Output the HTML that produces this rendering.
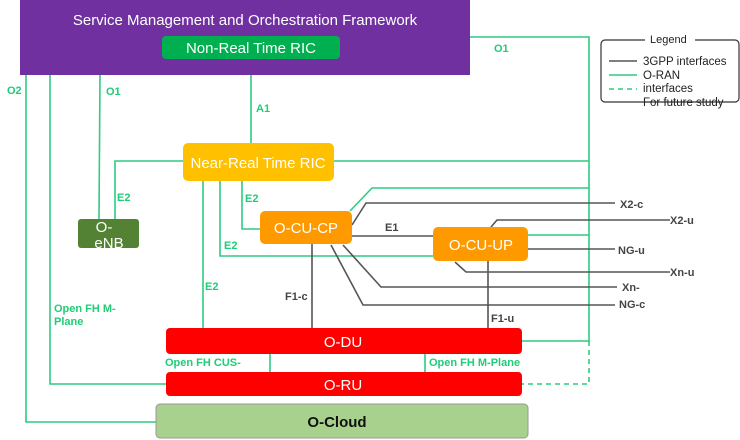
<!DOCTYPE html>
<html><head><meta charset="utf-8"><style>
body{margin:0;background:#fff}
svg{display:block;font-family:"Liberation Sans",sans-serif}
.g{stroke:#2ecc80;stroke-width:1.6;fill:none}
.k{stroke:#555;stroke-width:1.6;fill:none}
.gl{fill:#1fcc77;font-size:11px;font-weight:bold}
.kl{fill:#444;font-size:11px;font-weight:bold}
.w{fill:#fff;font-size:15px;text-anchor:middle}
</style></head><body>
<svg width="740" height="440" viewBox="0 0 740 440">
<!-- green lines -->
<polyline class="g" points="470,37 589,37 589,341 522,341"/>
<polyline class="g" points="589,341 589,384 522,384" stroke-dasharray="5,4"/>
<line class="g" x1="334" y1="161" x2="589" y2="161"/>
<polyline class="g" points="183,161 115,161 115,219"/>
<line class="g" x1="100" y1="75" x2="99" y2="219"/>
<polyline class="g" points="26,75 26,422 156,422"/>
<polyline class="g" points="50,75 50,384 166,384"/>
<line class="g" x1="251" y1="59" x2="251" y2="143"/>
<line class="g" x1="203" y1="181" x2="203" y2="328"/>
<polyline class="g" points="220,181 220,256 433,256"/>
<polyline class="g" points="242,181 242,229 260,229"/>
<polyline class="g" points="350,211 372,188 589,188"/>
<line class="g" x1="528" y1="235" x2="589" y2="235"/>
<line class="g" x1="270" y1="354" x2="270" y2="372"/>
<line class="g" x1="425" y1="354" x2="425" y2="372"/>
<!-- gray lines -->
<polyline class="k" points="352,225 366,203 615,203"/>
<line class="k" x1="352" y1="236" x2="433" y2="236"/>
<polyline class="k" points="343,245 381,287 617,287"/>
<polyline class="k" points="331,245 363,305 615,305"/>
<line class="k" x1="312" y1="244" x2="312" y2="328"/>
<polyline class="k" points="491,227 497,220 670,220"/>
<line class="k" x1="528" y1="249" x2="615" y2="249"/>
<polyline class="k" points="455,262 466,272 670,272"/>
<line class="k" x1="488" y1="261" x2="488" y2="328"/>
<!-- boxes -->
<rect x="20" y="0" width="450" height="75" fill="#7030a0"/>
<text x="245" y="25" class="w" font-size="15">Service Management and Orchestration Framework</text>
<rect x="162" y="36" width="178" height="23" rx="4" fill="#00b050"/>
<text x="251" y="53" class="w" font-size="14">Non-Real Time RIC</text>
<rect x="183" y="143" width="151" height="38" rx="5" fill="#ffc000"/>
<text x="258" y="168" class="w" font-size="15">Near-Real Time RIC</text>
<rect x="78" y="219" width="61" height="29" rx="3" fill="#548235"/>
<text x="104" y="232" class="w" font-size="14">O-</text>
<text x="109" y="248" class="w" font-size="14">eNB</text>
<rect x="260" y="211" width="92" height="33" rx="5" fill="#ff9900"/>
<text x="306" y="233" class="w" font-size="15">O-CU-CP</text>
<rect x="433" y="227" width="95" height="34" rx="5" fill="#ff9900"/>
<text x="481" y="250" class="w" font-size="15">O-CU-UP</text>
<rect x="166" y="328" width="356" height="26" rx="4" fill="#ff0000"/>
<text x="343" y="347" class="w" font-size="15">O-DU</text>
<rect x="166" y="372" width="356" height="24" rx="4" fill="#ff0000"/>
<text x="343" y="390" class="w" font-size="15">O-RU</text>
<rect x="156" y="404" width="372" height="34" rx="4" fill="#a9d18e" stroke="#999"/>
<text x="337" y="427" font-size="15" font-weight="bold" text-anchor="middle" fill="#111">O-Cloud</text>
<!-- labels -->
<text x="494" y="52" class="gl">O1</text>
<text x="7" y="94" class="gl">O2</text>
<text x="106" y="95" class="gl">O1</text>
<text x="256" y="112" class="gl">A1</text>
<text x="117" y="201" class="gl">E2</text>
<text x="245" y="202" class="gl">E2</text>
<text x="224" y="249" class="gl">E2</text>
<text x="205" y="290" class="gl">E2</text>
<text x="54" y="312" class="gl">Open FH M-</text>
<text x="54" y="325" class="gl">Plane</text>
<text x="165" y="366" class="gl">Open FH CUS-</text>
<text x="429" y="366" class="gl">Open FH M-Plane</text>
<text x="385" y="231" class="kl">E1</text>
<text x="285" y="300" class="kl">F1-c</text>
<text x="491" y="322" class="kl">F1-u</text>
<text x="620" y="208" class="kl">X2-c</text>
<text x="670" y="224" class="kl">X2-u</text>
<text x="618" y="254" class="kl">NG-u</text>
<text x="670" y="276" class="kl">Xn-u</text>
<text x="622" y="291" class="kl">Xn-</text>
<text x="619" y="308" class="kl">NG-c</text>
<!-- legend -->
<rect x="601" y="40" width="138" height="62" rx="4" fill="none" stroke="#333" stroke-width="1.2"/>
<rect x="645" y="32" width="50" height="14" fill="#fff"/>
<text x="650" y="43" font-size="11" fill="#222">Legend</text>
<line x1="609" y1="61" x2="637" y2="61" stroke="#555" stroke-width="1.5"/>
<line x1="609" y1="75" x2="637" y2="75" stroke="#2ecc80" stroke-width="1.5"/>
<line x1="609" y1="89" x2="637" y2="89" stroke="#2ecc80" stroke-width="1.5" stroke-dasharray="5,4"/>
<text x="643" y="65" font-size="11.5" fill="#222">3GPP interfaces</text>
<text x="643" y="79" font-size="11.5" fill="#222">O-RAN</text>
<text x="643" y="92" font-size="11.5" fill="#222">interfaces</text>
<text x="643" y="106" font-size="11.5" fill="#222">For future study</text>
</svg>
</body></html>
